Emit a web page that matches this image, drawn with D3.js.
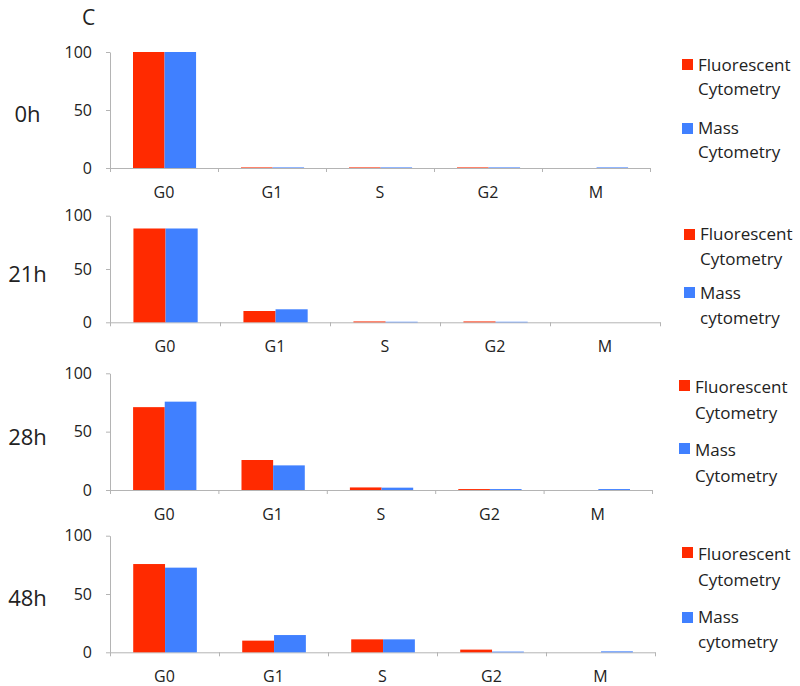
<!DOCTYPE html>
<html>
<head>
<meta charset="utf-8">
<script src="https://cdn.jsdelivr.net/npm/d3@7/dist/d3.min.js"></script>
<style>
  html, body { margin: 0; padding: 0; background: #fff; }
  svg { display: block; font-family: "Open Sans", sans-serif; }
</style>
</head>
<body>
<svg id="chart" width="800" height="686"></svg>
<script>
// ---------- DATA ----------
const categories = ["G0", "G1", "S", "G2", "M"];
const timepoints = ["0h", "21h", "28h", "48h"];
const seriesNames = ["Fluorescent Cytometry", "Mass Cytometry"];

const fluorescent0h  = [100, 0.5, 0.5, 0.5, 0];
const mass0h         = [100, 0.5, 0.5, 0.5, 0.5];
const fluorescent21h = [88, 10.6, 0.8, 0.8, 0];
const mass21h        = [88, 12.2, 0.5, 0.5, 0];
const fluorescent28h = [71, 25.7, 2.2, 0.8, 0];
const mass28h        = [75.7, 21.1, 2, 0.8, 0.8];
const fluorescent48h = [75.7, 10, 11.1, 2.3, 0];
const mass48h        = [72.6, 14.8, 11.1, 0.6, 0.8];

const yTicks = [0, 50, 100];

// legend wording as printed in each panel
const legendLines = [
  [["Fluorescent", "Cytometry"], ["Mass", "Cytometry"]],
  [["Fluorescent", "Cytometry"], ["Mass", "cytometry"]],
  [["Fluorescent", "Cytometry"], ["Mass", "Cytometry"]],
  [["Fluorescent", "Cytometry"], ["Mass", "cytometry"]]
];

const panelData = [
  [fluorescent0h, mass0h],
  [fluorescent21h, mass21h],
  [fluorescent28h, mass28h],
  [fluorescent48h, mass48h]
];

// ---------- LAYOUT ----------
const colors = ["#ff2a00", "#4080ff"];
const axisColor = "#b4b4b4";
const xLeft = 110;
const layout = [
  { top: 52,    bottom: 168,   right: 650, labelBase: 122, sqX: 682, txX: 698, sq: [59, 123],  base: [[71, 95], [134, 158]] },
  { top: 215.7, bottom: 322.3, right: 660, labelBase: 282, sqX: 684, txX: 700, sq: [229, 287], base: [[240, 265], [299, 324]] },
  { top: 373.3, bottom: 490,   right: 652, labelBase: 445, sqX: 679, txX: 695, sq: [380, 443], base: [[393, 419], [456, 482]] },
  { top: 535.7, bottom: 652.3, right: 655, labelBase: 606, sqX: 682, txX: 698, sq: [547, 612], base: [[560, 586], [623, 648]] }
];

const svg = d3.select("#chart");

svg.append("text")
  .attr("x", 82).attr("y", 25)
  .attr("font-size", 21).attr("fill", "#222")
  .text("C");

timepoints.forEach((tp, i) => {
  const L = layout[i];
  const g = svg.append("g");

  const y = d3.scaleLinear().domain([0, 100]).range([L.bottom, L.top]);
  const x = d3.scaleBand().domain(categories).range([xLeft, L.right]).padding(0);
  const xs = d3.scaleBand().domain(seriesNames)
    .range([x.bandwidth() * 0.213, x.bandwidth() * 0.797]).padding(0);
  const xEdge = d3.scaleLinear().domain([0, categories.length]).range([xLeft, L.right]);

  // y axis
  const yAxis = g.append("g")
    .attr("transform", `translate(${xLeft},0)`)
    .call(d3.axisLeft(y).tickValues(yTicks).tickSize(4).tickSizeOuter(0).tickPadding(14));
  yAxis.selectAll("text").attr("font-size", 16).attr("font-family", "Open Sans").attr("fill", "#222");

  // x axis tick marks at category boundaries
  g.append("g")
    .attr("transform", `translate(0,${L.bottom})`)
    .call(d3.axisBottom(xEdge).tickValues(d3.range(categories.length + 1)).tickFormat("").tickSize(4).tickSizeOuter(0));

  // x axis category labels
  const xAxis = g.append("g")
    .attr("transform", `translate(0,${L.bottom})`)
    .call(d3.axisBottom(x).tickSize(0).tickPadding(18.6));
  xAxis.select(".domain").remove();
  xAxis.selectAll("text").attr("font-size", 16).attr("font-family", "Open Sans").attr("fill", "#222");

  g.selectAll(".domain, .tick line").attr("stroke", axisColor).attr("stroke-width", 1);

  // bars (drawn above the axis line)
  const rows = categories.map((c, ci) => ({ c, vals: panelData[i].map((arr, si) => ({ s: seriesNames[si], v: arr[ci], si })) }));
  g.selectAll("g.cat").data(rows).join("g")
    .attr("class", "cat")
    .attr("transform", d => `translate(${x(d.c)},0)`)
    .selectAll("rect").data(d => d.vals.filter(v => v.v > 0)).join("rect")
    .attr("x", d => xs(d.s))
    .attr("width", xs.bandwidth())
    .attr("y", d => y(d.v))
    .attr("height", d => y(0) - y(d.v))
    .attr("fill", d => colors[d.si]);

  // panel label
  g.append("text")
    .attr("x", 27.5).attr("y", L.labelBase)
    .attr("text-anchor", "middle")
    .attr("font-size", 22).attr("fill", "#222")
    .text(tp);

  // legend
  seriesNames.forEach((s, si) => {
    g.append("rect")
      .attr("x", L.sqX).attr("y", L.sq[si])
      .attr("width", 11).attr("height", 11)
      .attr("fill", colors[si]);
    legendLines[i][si].forEach((line, li) => {
      g.append("text")
        .attr("x", L.txX).attr("y", L.base[si][li])
        .attr("font-size", 17).attr("fill", "#222")
        .text(line);
    });
  });
});
</script>
</body>
</html>
